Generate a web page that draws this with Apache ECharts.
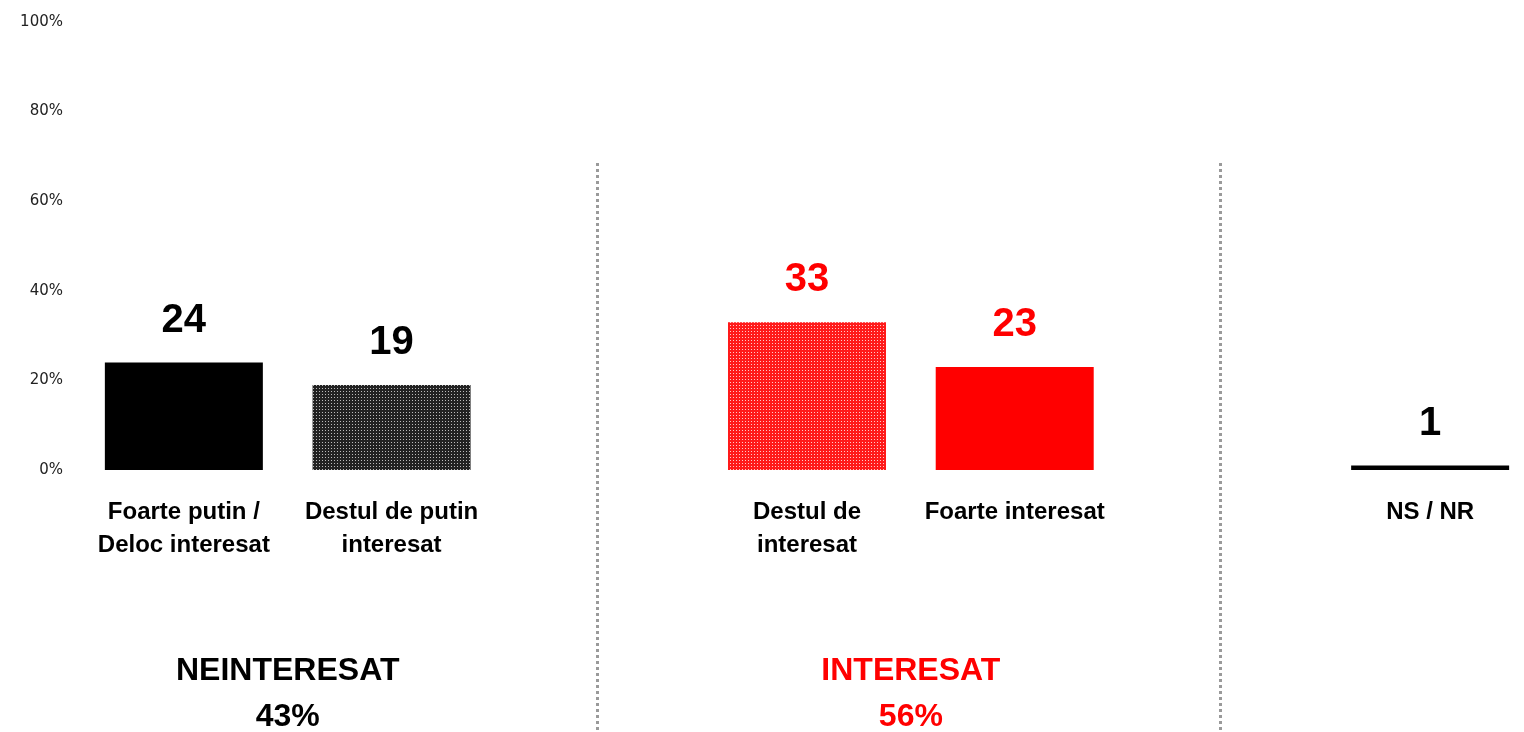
<!DOCTYPE html>
<html>
<head>
<meta charset="utf-8">
<script src="https://cdn.jsdelivr.net/npm/echarts@6/dist/echarts.min.js"></script>
<style>
  html, body { margin: 0; padding: 0; background: #fff; }
  #chart { width: 1524px; height: 732px; }
</style>
</head>
<body>
<div id="chart"></div>
<script>
// categories (empty slots hold the dotted separators)
const categories = ['Foarte putin /\nDeloc interesat', 'Destul de putin\ninteresat', '', 'Destul de\ninteresat', 'Foarte interesat', '', 'NS / NR']
const values = [24, 19, null, 33, 23, null, 1]
const labelColors = ['#000', '#000', '#000', '#ff0000', '#ff0000', '#000', '#000']
const yTicks = [0, 20, 40, 60, 80, 100]

// group totals: [title, value, color, from index, to index]
const groups = [
  ['NEINTERESAT', '43%', '#000', 0, 1],
  ['INTERESAT', '56%', '#ff0000', 3, 4]
]
const separators = [2, 5]

// dotted fill like the original
function dotPattern(bg, dot) {
  const c = document.createElement('canvas')
  c.width = 3
  c.height = 3
  const ctx = c.getContext('2d')
  ctx.fillStyle = bg
  ctx.fillRect(0, 0, 3, 3)
  ctx.fillStyle = dot
  ctx.fillRect(1, 1, 1, 1)
  return { image: c, repeat: 'repeat' }
}

const fills = [
  '#000',
  dotPattern('#222', '#bbb'),
  '#000',
  dotPattern('#ff1a1a', '#ffc8c8'),
  '#ff0000',
  '#000',
  '#000'
]

const chart = echarts.init(document.getElementById('chart'))

const option = {
  animation: false,
  backgroundColor: '#fff',
  grid: { left: 80, top: 22, width: 1454, height: 448, containLabel: false, outerBoundsMode: 'none' },
  xAxis: {
    type: 'category',
    data: categories,
    axisLine: { show: false },
    axisTick: { show: false },
    axisLabel: {
      interval: 0,
      margin: 26,
      color: '#000',
      fontFamily: 'Liberation Sans, Arial, sans-serif',
      fontWeight: 'bold',
      fontSize: 24,
      lineHeight: 33
    }
  },
  yAxis: {
    type: 'value',
    min: 0,
    max: 100,
    interval: 20,
    axisLine: { show: false },
    axisTick: { show: false },
    splitLine: { show: false },
    axisLabel: {
      margin: 17,
      color: '#222',
      fontFamily: 'DejaVu Sans, Verdana, sans-serif',
      fontSize: 15,
      formatter: v => (yTicks.indexOf(v) >= 0 ? v + '%' : '')
    }
  },
  series: [{
    type: 'bar',
    barWidth: 158,
    data: values.map((v, i) => ({
      value: v,
      itemStyle: { color: fills[i] },
      label: { color: labelColors[i] }
    })),
    label: {
      show: true,
      position: 'top',
      distance: 22,
      fontFamily: 'Liberation Sans, Arial, sans-serif',
      fontWeight: 'bold',
      fontSize: 40
    }
  }]
}

chart.setOption(option)

// separators and group totals placed from the axis scale
const graphics = []
separators.forEach(idx => {
  const x = Math.round(chart.convertToPixel({ xAxisIndex: 0 }, idx)) - 1.5
  graphics.push({
    type: 'line',
    shape: { x1: x, y1: 163, x2: x, y2: 732 },
    style: { stroke: '#9a9a9a', lineWidth: 3, lineDash: [3, 3] }
  })
})
groups.forEach(g => {
  const x1 = chart.convertToPixel({ xAxisIndex: 0 }, g[3])
  const x2 = chart.convertToPixel({ xAxisIndex: 0 }, g[4])
  graphics.push({
    type: 'text',
    x: (x1 + x2) / 2,
    y: 648,
    style: {
      text: g[0] + '\n' + g[1],
      fill: g[2],
      align: 'center',
      verticalAlign: 'top',
      font: 'bold 32px "Liberation Sans", Arial, sans-serif',
      lineHeight: 46
    }
  })
})
chart.setOption({ graphic: graphics })
</script>
</body>
</html>
